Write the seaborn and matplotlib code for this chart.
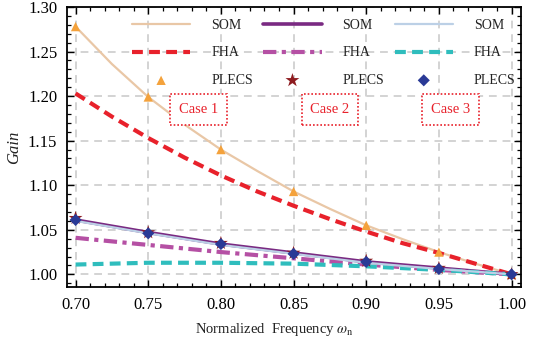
import matplotlib
matplotlib.use("Agg")
import matplotlib.pyplot as plt
import seaborn as sns
from matplotlib.ticker import MultipleLocator

# ---- data ----
freq_fine = [0.70, 0.725, 0.75, 0.775, 0.80, 0.825, 0.85, 0.875, 0.90, 0.925, 0.95, 0.975, 1.00]
som1 = [1.278, 1.236, 1.199, 1.168, 1.140, 1.116, 1.093, 1.0735, 1.055, 1.0395, 1.025, 1.012, 1.000]
fha1 = [1.203, 1.177, 1.153, 1.131, 1.111, 1.093, 1.077, 1.062, 1.048, 1.035, 1.024, 1.012, 1.000]

freq = [0.70, 0.75, 0.80, 0.85, 0.90, 0.95, 1.00]
plecs1 = [1.278, 1.199, 1.140, 1.093, 1.055, 1.025, 1.000]
som2 = [1.061, 1.047, 1.034, 1.024, 1.014, 1.007, 1.000]
fha2 = [1.041, 1.033, 1.025, 1.018, 1.011, 1.005, 1.000]
plecs2 = [1.063, 1.047, 1.035, 1.024, 1.015, 1.007, 1.000]
som3 = [1.060, 1.046, 1.033, 1.023, 1.013, 1.006, 1.000]
fha3 = [1.011, 1.013, 1.013, 1.012, 1.009, 1.005, 1.000]
plecs3 = [1.061, 1.046, 1.034, 1.023, 1.014, 1.006, 1.000]

case_labels = ["Case 1", "Case 2", "Case 3"]
case_x = [0.7845, 0.875, 0.958]
case_y = [1.185, 1.185, 1.185]

# ---- style ----
sns.set_style("ticks")
plt.rcParams["font.family"] = ["Liberation Serif", "DejaVu Serif"]
plt.rcParams["mathtext.fontset"] = "stix"

fig = plt.figure(figsize=(5.46, 3.39), dpi=100)
ax = fig.add_axes([67/546, 1 - 287/339, (521-67)/546, (287-7)/339])

c_som1, c_fha1, c_p1 = "#E9C7A6", "#E8212B", "#F4A23C"
c_som2, c_fha2, c_p2 = "#7A2A82", "#B550A4", "#8E1C20"
c_som3, c_fha3, c_p3 = "#BCD0E6", "#2FBDBD", "#2A3A96"

handles = []
sns.lineplot(x=freq_fine, y=som1, ax=ax, color=c_som1, lw=1.6, zorder=3)
handles.append(ax.lines[-1])
sns.lineplot(x=freq_fine, y=fha1, ax=ax, color=c_fha1, lw=3.0, linestyle=(0, (2.6, 1.5)), zorder=3)
handles.append(ax.lines[-1])
sns.scatterplot(x=freq, y=plecs1, ax=ax, color=c_p1, marker="^", s=45, edgecolor="none", zorder=6)
handles.append(ax.collections[-1])

sns.lineplot(x=freq, y=som2, ax=ax, color=c_som2, lw=2.6, zorder=3)
handles.append(ax.lines[-1])
sns.lineplot(x=freq, y=fha2, ax=ax, color=c_fha2, lw=3.0, linestyle=(0, (3.2, 1.3, 1.0, 1.3)), zorder=3)
handles.append(ax.lines[-1])
sns.scatterplot(x=freq, y=plecs2, ax=ax, color=c_p2, marker="*", s=110, edgecolor="none", zorder=6)
handles.append(ax.collections[-1])

sns.lineplot(x=freq, y=som3, ax=ax, color=c_som3, lw=1.6, zorder=4)
handles.append(ax.lines[-1])
sns.lineplot(x=freq, y=fha3, ax=ax, color=c_fha3, lw=3.0, linestyle=(0, (2.6, 1.5)), zorder=3)
handles.append(ax.lines[-1])
sns.scatterplot(x=freq, y=plecs3, ax=ax, color=c_p3, marker="D", s=38, edgecolor="none", zorder=7)
handles.append(ax.collections[-1])

labels = ["SOM", "FHA", "PLECS"] * 3

ax.set_xlim(0.6941, 1.0065)
ax.set_ylim(0.9858, 1.30)
ax.xaxis.set_major_locator(MultipleLocator(0.05))
ax.xaxis.set_minor_locator(MultipleLocator(0.01))
ax.yaxis.set_major_locator(MultipleLocator(0.05))
ax.yaxis.set_minor_locator(MultipleLocator(0.01))
ax.xaxis.set_major_formatter(matplotlib.ticker.FormatStrFormatter("%.2f"))
ax.yaxis.set_major_formatter(matplotlib.ticker.FormatStrFormatter("%.2f"))

ax.tick_params(which="both", direction="in", top=True, right=True, colors="black")
ax.tick_params(which="major", length=5, width=1.0, labelsize=12)
ax.tick_params(axis="x", which="major", pad=7.5)
ax.tick_params(axis="y", which="major", pad=7)
ax.tick_params(which="minor", length=3, width=0.9)
for sp in ax.spines.values():
    sp.set_linewidth(1.3)
    sp.set_color("black")

ax.grid(True, which="major", color="#D3D3D3", linestyle=(0, (4, 3)), lw=1.4, zorder=0)
ax.set_axisbelow(True)

ax.set_xlabel(r"Normalized  Frequency $\omega_\mathrm{n}$", fontsize=10.5, color="#222222")
ax.xaxis.set_label_coords(0.456, -0.12)
ax.set_ylabel("Gain", fontsize=12, style="italic", color="#222222")
ax.yaxis.set_label_coords(-0.10, 0.5)

leg = ax.legend(handles, labels, ncol=3, loc="upper left", bbox_to_anchor=(0.117, 1.0),
                frameon=False, fontsize=10, handlelength=4.2, handletextpad=1.5,
                columnspacing=0.75, labelspacing=1.05, borderaxespad=0.45)
for t in leg.get_texts():
    t.set_color("#222222")

for lab, xx, yy in zip(case_labels, case_x, case_y):
    ax.text(xx, yy, lab, color=c_fha1, fontsize=10.5, ha="center", va="center", zorder=8,
            bbox=dict(boxstyle="square,pad=0.6", facecolor="white", edgecolor=c_fha1,
                      linestyle=(0, (1, 1.2)), lw=1.2))

fig.savefig("out.png", dpi=100)
